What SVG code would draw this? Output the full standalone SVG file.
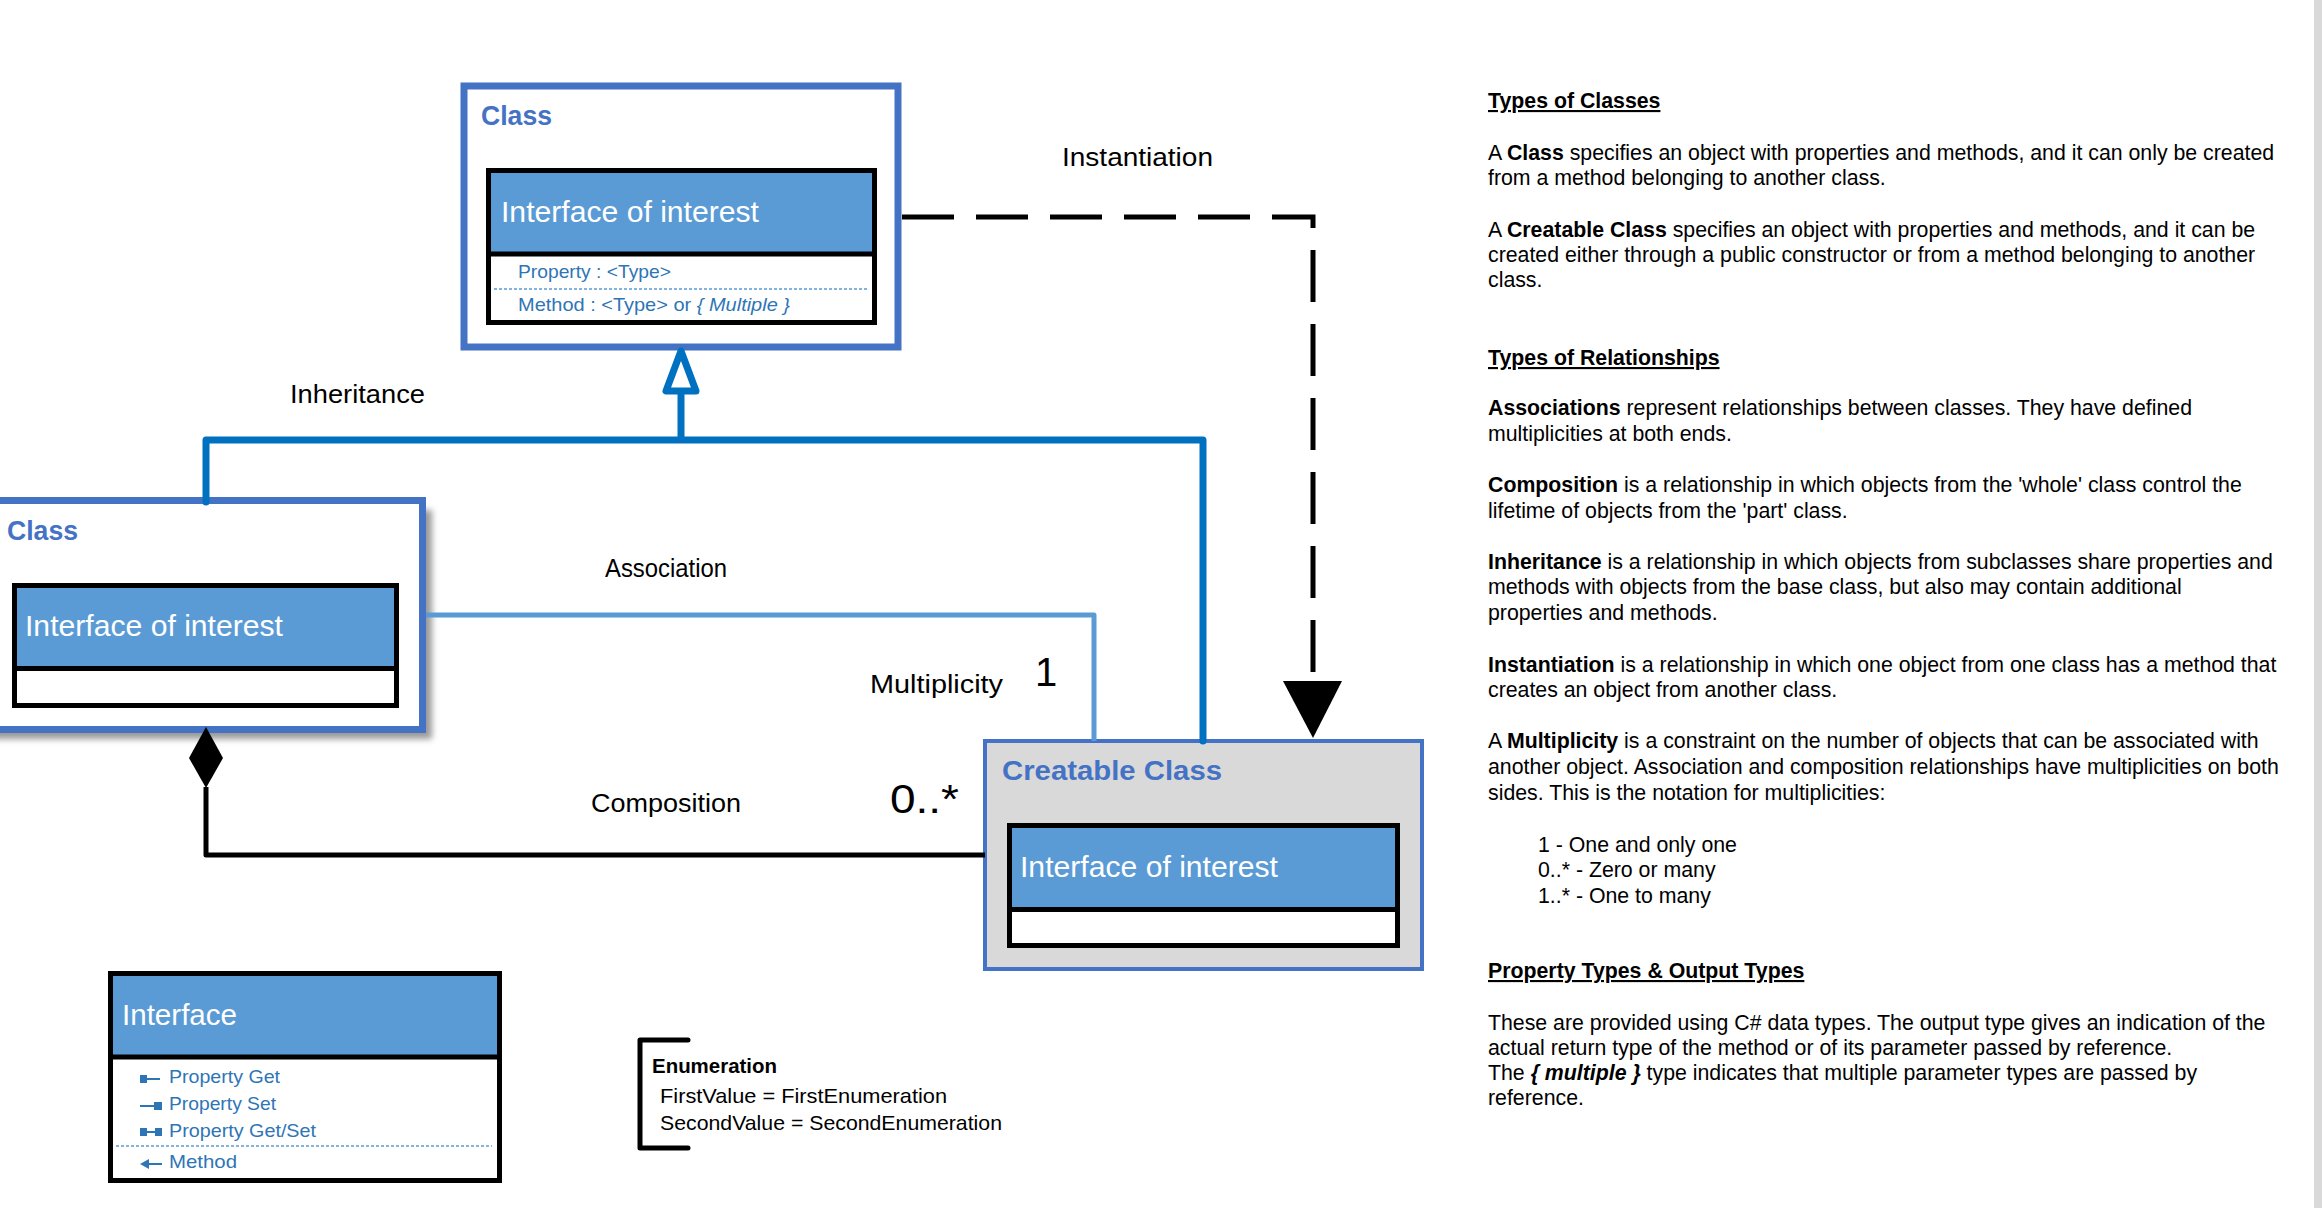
<svg xmlns="http://www.w3.org/2000/svg" width="2323" height="1208" viewBox="0 0 2323 1208">
<style>
.dg{font-family:"Liberation Sans",Arial,sans-serif}
.title{font-family:"Liberation Sans",Arial,sans-serif;font-weight:bold;font-size:28px;fill:#4472C4}
.hdr{font-family:"Liberation Sans",Arial,sans-serif;font-size:29px;fill:#ffffff}
.mem{font-family:"Liberation Sans",Arial,sans-serif;font-size:18.5px;fill:#2E75B6}
.lbl{font-family:"Liberation Sans",Arial,sans-serif;font-size:26px;fill:#000}
.big{font-family:"Liberation Sans",Arial,sans-serif;font-size:40px;fill:#000}
.outer{fill:#ffffff;stroke:#4472C4;stroke-width:7}
.inner{fill:#ffffff;stroke:#000;stroke-width:5}
.head{fill:#5B9BD5}
.sep{stroke:#000;stroke-width:5}
.dots{stroke:#5B9BD5;stroke-width:1.5;stroke-dasharray:3 2}
.txt{font-family:"Liberation Sans",Arial,sans-serif;font-size:21.3px;fill:#000}
.h{font-weight:bold;text-decoration:underline}
.b{font-weight:bold}
.icon{fill:#2E75B6}
.iline{stroke:#2E75B6;stroke-width:2}
</style>
<defs>
<filter id="shadow" x="-20%" y="-20%" width="140%" height="140%">
<feGaussianBlur stdDeviation="3"/>
</filter>
</defs>
<rect width="2323" height="1208" fill="#ffffff"/>
<rect x="2314" y="0" width="8" height="1208" fill="#D9D9D9"/>

<g id="class-top">
<rect class="outer" x="464" y="86" width="434" height="261"/>
<text class="title" x="481" y="125" textLength="71" lengthAdjust="spacingAndGlyphs">Class</text>
<rect class="inner" x="488.5" y="170.5" width="386" height="152"/>
<rect class="head" x="491" y="173" width="381" height="81"/>
<line class="sep" x1="488.5" y1="254" x2="874.5" y2="254"/>
<text class="hdr" x="501" y="222" textLength="258" lengthAdjust="spacingAndGlyphs">Interface of interest</text>
<text class="mem" x="518" y="278" textLength="153" lengthAdjust="spacingAndGlyphs">Property : &lt;Type&gt;</text>
<line class="dots" x1="494" y1="289" x2="869" y2="289"/>
<text class="mem" x="518" y="311" textLength="272" lengthAdjust="spacingAndGlyphs">Method : &lt;Type&gt; or <tspan font-style="italic">{ Multiple }</tspan></text>
</g>

<g id="class-left">
<rect x="-20" y="510" width="452" height="229" fill="#999999" filter="url(#shadow)"/>
<rect class="outer" x="-30" y="500.5" width="452.5" height="229"/>
<text class="title" x="7" y="540" textLength="71" lengthAdjust="spacingAndGlyphs">Class</text>
<rect class="inner" x="14.5" y="585.5" width="382" height="120"/>
<rect class="head" x="17" y="588" width="377" height="80"/>
<line class="sep" x1="14.5" y1="668.5" x2="396.5" y2="668.5"/>
<text class="hdr" x="25" y="636" textLength="258" lengthAdjust="spacingAndGlyphs">Interface of interest</text>
</g>

<g id="creatable-class">
<rect x="985" y="741" width="437" height="228" fill="#D9D9D9" stroke="#4472C4" stroke-width="4"/>
<text class="title" x="1002" y="780" textLength="220" lengthAdjust="spacingAndGlyphs">Creatable Class</text>
<rect class="inner" x="1009.5" y="825.5" width="388" height="120"/>
<rect class="head" x="1012" y="828" width="383" height="81"/>
<line class="sep" x1="1009.5" y1="909.5" x2="1397.5" y2="909.5"/>
<text class="hdr" x="1020" y="877" textLength="258" lengthAdjust="spacingAndGlyphs">Interface of interest</text>
</g>

<g id="interface-legend">
<rect class="inner" x="110.5" y="973.5" width="389" height="207"/>
<rect class="head" x="113" y="976" width="384" height="81"/>
<line class="sep" x1="110.5" y1="1057" x2="499.5" y2="1057"/>
<text class="hdr" x="122" y="1025" textLength="115" lengthAdjust="spacingAndGlyphs">Interface</text>
<rect class="icon" x="140" y="1075" width="7" height="8"/>
<line class="iline" x1="147" y1="1079" x2="160" y2="1079"/>
<text class="mem" x="169" y="1083" textLength="111" lengthAdjust="spacingAndGlyphs">Property Get</text>
<line class="iline" x1="140" y1="1106" x2="154" y2="1106"/>
<rect class="icon" x="154" y="1102" width="8" height="8"/>
<text class="mem" x="169" y="1110" textLength="107" lengthAdjust="spacingAndGlyphs">Property Set</text>
<rect class="icon" x="140" y="1128" width="7" height="8"/>
<line class="iline" x1="147" y1="1132" x2="155" y2="1132"/>
<rect class="icon" x="155" y="1128" width="7" height="8"/>
<text class="mem" x="169" y="1137" textLength="147" lengthAdjust="spacingAndGlyphs">Property Get/Set</text>
<line class="dots" x1="116" y1="1146" x2="492" y2="1146"/>
<polygon class="icon" points="140,1164 149,1159 149,1169"/>
<line class="iline" x1="148" y1="1164" x2="162" y2="1164"/>
<text class="mem" x="169" y="1168" textLength="68" lengthAdjust="spacingAndGlyphs">Method</text>
</g>

<g id="enumeration-legend">
<path d="M688,1040 H640 V1148 H688" fill="none" stroke="#000" stroke-width="5" stroke-linecap="round" stroke-linejoin="round"/>
<text class="dg" x="652" y="1073" font-size="21" font-weight="bold" textLength="125" lengthAdjust="spacingAndGlyphs">Enumeration</text>
<text class="dg" x="660" y="1103" font-size="21" textLength="287" lengthAdjust="spacingAndGlyphs">FirstValue = FirstEnumeration</text>
<text class="dg" x="660" y="1130" font-size="21" textLength="342" lengthAdjust="spacingAndGlyphs">SecondValue = SecondEnumeration</text>
</g>

<g id="connectors">
<path d="M902,217 H1313 V681" fill="none" stroke="#000" stroke-width="5" stroke-dasharray="52 22"/>
<polygon points="1283,681 1342,681 1313,738" fill="#000"/>
<path d="M206,502 V440 H1203 V741" fill="none" stroke="#0070C0" stroke-width="7" stroke-linejoin="round" stroke-linecap="round"/>
<line x1="681" y1="440" x2="681" y2="392" stroke="#0070C0" stroke-width="7"/>
<polygon points="681,351 666,391 696,391" fill="#ffffff" stroke="#0070C0" stroke-width="7" stroke-linejoin="round"/>
<path d="M426,615 H1094 V741" fill="none" stroke="#5B9BD5" stroke-width="5" stroke-linejoin="round"/>
<path d="M985,855 H206 V787" fill="none" stroke="#000" stroke-width="5" stroke-linejoin="round"/>
<polygon points="206,727 223,758 206,788 189,758" fill="#000"/>
<text class="lbl" x="1062" y="166" textLength="151" lengthAdjust="spacingAndGlyphs">Instantiation</text>
<text class="lbl" x="290" y="403" textLength="135" lengthAdjust="spacingAndGlyphs">Inheritance</text>
<text class="lbl" x="605" y="577" textLength="122" lengthAdjust="spacingAndGlyphs">Association</text>
<text class="lbl" x="870" y="693" textLength="133" lengthAdjust="spacingAndGlyphs">Multiplicity</text>
<text class="big" x="1035" y="686">1</text>
<text class="lbl" x="591" y="812" textLength="150" lengthAdjust="spacingAndGlyphs">Composition</text>
<text class="big" x="890" y="813" textLength="69" lengthAdjust="spacingAndGlyphs">0..*</text>
</g>

<g id="notes" class="txt">
<text class="txt h" x="1488" y="108">Types of Classes</text>
<text class="txt" x="1488" y="160">A <tspan class="b">Class</tspan> specifies an object with properties and methods, and it can only be created</text>
<text class="txt" x="1488" y="185">from a method belonging to another class.</text>
<text class="txt" x="1488" y="237">A <tspan class="b">Creatable Class</tspan> specifies an object with properties and methods, and it can be</text>
<text class="txt" x="1488" y="262">created either through a public constructor or from a method belonging to another</text>
<text class="txt" x="1488" y="287">class.</text>
<text class="txt h" x="1488" y="365">Types of Relationships</text>
<text class="txt" x="1488" y="415"><tspan class="b">Associations</tspan> represent relationships between classes. They have defined</text>
<text class="txt" x="1488" y="441">multiplicities at both ends.</text>
<text class="txt" x="1488" y="492"><tspan class="b">Composition</tspan> is a relationship in which objects from the 'whole' class control the</text>
<text class="txt" x="1488" y="518">lifetime of objects from the 'part' class.</text>
<text class="txt" x="1488" y="569"><tspan class="b">Inheritance</tspan> is a relationship in which objects from subclasses share properties and</text>
<text class="txt" x="1488" y="594">methods with objects from the base class, but also may contain additional</text>
<text class="txt" x="1488" y="620">properties and methods.</text>
<text class="txt" x="1488" y="672"><tspan class="b">Instantiation</tspan> is a relationship in which one object from one class has a method that</text>
<text class="txt" x="1488" y="697">creates an object from another class.</text>
<text class="txt" x="1488" y="748">A <tspan class="b">Multiplicity</tspan> is a constraint on the number of objects that can be associated with</text>
<text class="txt" x="1488" y="774">another object. Association and composition relationships have multiplicities on both</text>
<text class="txt" x="1488" y="800">sides. This is the notation for multiplicities:</text>
<text class="txt" x="1538" y="852">1 - One and only one</text>
<text class="txt" x="1538" y="877">0..* - Zero or many</text>
<text class="txt" x="1538" y="903">1..* - One to many</text>
<text class="txt h" x="1488" y="978">Property Types &amp; Output Types</text>
<text class="txt" x="1488" y="1030">These are provided using C# data types. The output type gives an indication of the</text>
<text class="txt" x="1488" y="1055">actual return type of the method or of its parameter passed by reference.</text>
<text class="txt" x="1488" y="1080">The <tspan font-weight="bold" font-style="italic">{ multiple }</tspan> type indicates that multiple parameter types are passed by</text>
<text class="txt" x="1488" y="1105">reference.</text>
</g>
</svg>
